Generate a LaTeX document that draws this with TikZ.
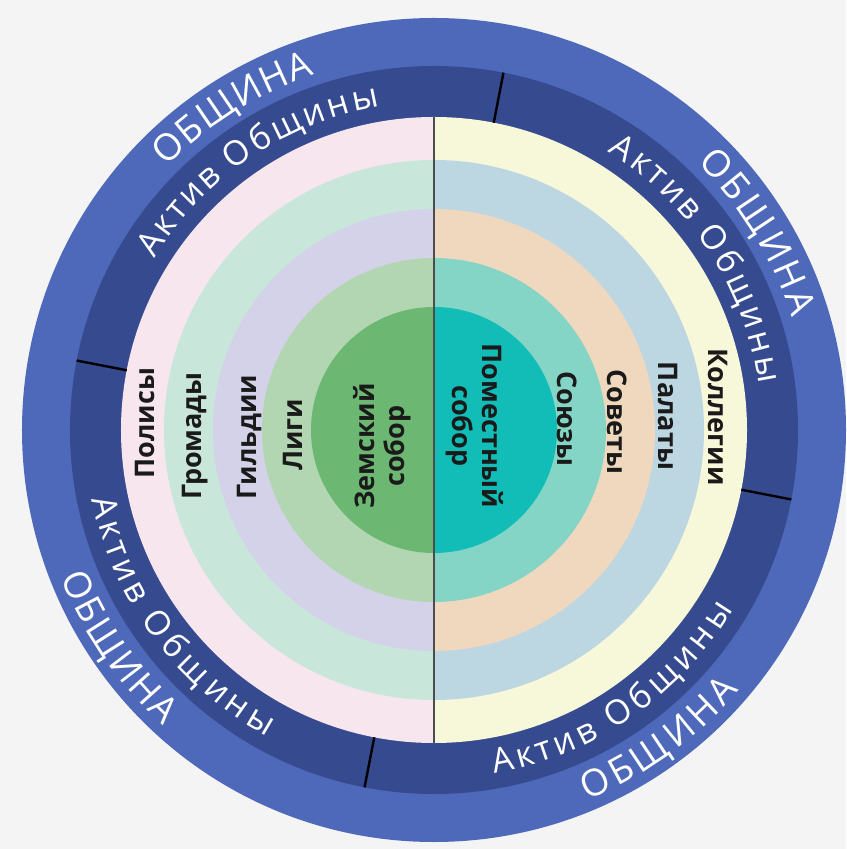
\documentclass[tikz,border=0pt]{standalone}
\usepackage{fontspec}
\setmainfont{Open Sans}
\newfontfamily\ringfont{Open Sans}
\usetikzlibrary{decorations.text}

\definecolor{bgcol}{HTML}{F4F4F4}
\definecolor{obshcol}{HTML}{4E69B9}
\definecolor{aktivcol}{HTML}{364B8F}
\definecolor{polcol}{HTML}{F8E6EF}
\definecolor{gromcol}{HTML}{C8E6DA}
\definecolor{gildcol}{HTML}{D4D2E8}
\definecolor{ligcol}{HTML}{B2D6B2}
\definecolor{zemcol}{HTML}{6CB873}
\definecolor{kolcol}{HTML}{F7F7DA}
\definecolor{palcol}{HTML}{BCD7E2}
\definecolor{sovcol}{HTML}{EFD8BE}
\definecolor{soyucol}{HTML}{84D5C6}
\definecolor{pomcol}{HTML}{12BDB7}
\definecolor{labcol}{HTML}{1A1A1A}

\newcommand\obshfont{\ringfont\fontsize{18.5pt}{20pt}\selectfont}
\newcommand\aktivfont{\ringfont\fontsize{17pt}{19pt}\selectfont}
\newcommand\labfont{\bfseries\fontsize{13.5pt}{15pt}\selectfont}

\tikzset{
  lab/.style={font=\labfont, text=labcol, align=center, inner sep=0pt},
  tickline/.style={draw=black, line width=1.2pt},
  divline/.style={draw=black!70, line width=0.8pt},
  obshtext/.style={font=\obshfont, decorate, decoration={text effects along path,
      text={ОБЩИНА}, text effects/.cd, text along path, fit text to path,
      characters={text=white, font=\obshfont}}},
  aktivtext/.style={font=\aktivfont, decorate, decoration={text effects along path,
      text={Актив Общины}, text effects/.cd, text along path, fit text to path,
      characters={text=white, font=\aktivfont}}}
}

\begin{document}
\begin{tikzpicture}[x=0.5pt,y=0.5pt]
  \path[fill=bgcol, use as bounding box] (-434,-419) rectangle (412,430);

  \fill[obshcol] (0,0) circle[radius=412];
  \fill[aktivcol] (0,0) circle[radius=364];

  \foreach \r/\lc/\rc in {313/polcol/kolcol, 270/gromcol/palcol, 221/gildcol/sovcol,
                          172/ligcol/soyucol, 123/zemcol/pomcol} {
    \fill[\lc] (0,\r) arc[start angle=90, end angle=270, radius=\r] -- cycle;
    \fill[\rc] (0,-\r) arc[start angle=-90, end angle=90, radius=\r] -- cycle;
  }

  \coordinate (divtop) at (0,313);
  \coordinate (divbot) at (0,-313);
  \draw[divline] (divtop) -- (divbot);

  \foreach \a in {79,169,259,349}
    \draw[tickline] (\a:313) -- (\a:364);

  \path[obshtext] (135.5:375) arc[start angle=135.5, end angle=108.5, radius=375];
  \path[obshtext] (45.5:375) arc[start angle=45.5, end angle=17.5, radius=375];
  \path[obshtext] (201.5:401) arc[start angle=201.5, end angle=227.5, radius=401];
  \path[obshtext] (292.5:401) arc[start angle=292.5, end angle=319.5, radius=401];

  \path[aktivtext] (148.5:328) arc[start angle=148.5, end angle=99.5, radius=328];
  \path[aktivtext] (58:328) arc[start angle=58, end angle=8, radius=328];
  \path[aktivtext] (191.5:349) arc[start angle=191.5, end angle=241.5, radius=349];
  \path[aktivtext] (280:349) arc[start angle=280, end angle=329, radius=349];

  \node[lab, rotate=90] (polisy) at (-289,7) {Полисы};
  \node[lab, rotate=90] (gromady) at (-239,-6) {Громады};
  \node[lab, rotate=90] (gildii) at (-184,-7) {Гильдии};
  \node[lab, rotate=90] (ligi) at (-141,-5) {Лиги};
  \node[lab, rotate=90] (zemsky) at (-52,-16) {Земский\\собор};

  \node[lab, rotate=-90] (kollegii) at (284,13) {Коллегии};
  \node[lab, rotate=-90] (palaty) at (234,14) {Палаты};
  \node[lab, rotate=-90] (sovety) at (183,8) {Советы};
  \node[lab, rotate=-90] (soyuzy) at (133,11) {Союзы};
  \node[lab, rotate=-90] (pomestny) at (41,4) {Поместный\\собор};
\end{tikzpicture}
\end{document}
